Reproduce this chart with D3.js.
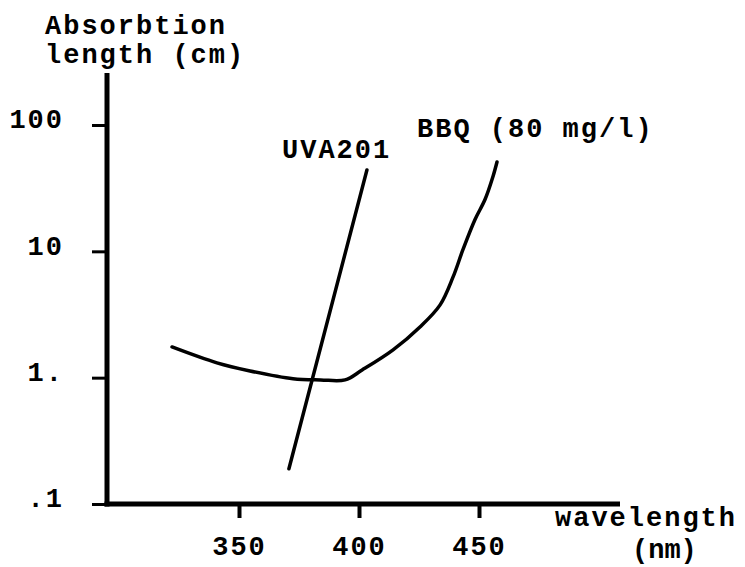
<!doctype html>
<html lang="en">
<head>
  <meta charset="utf-8">
  <title>Absorbtion length</title>
  <script src="https://cdnjs.cloudflare.com/ajax/libs/d3/7.8.5/d3.min.js"></script>
  <style>
    body { margin: 0; background: #fff; }
    text { font-family: "Liberation Mono", "DejaVu Sans Mono", monospace; font-weight: bold; font-size: 27px; letter-spacing: 2px; fill: #000; }
  </style>
</head>
<body>
  <div id="my_dataviz"></div>
  <script>

// data (wavelength in nm, absorbtion length in cm)
var uvaWave = [370.8, 403.3];
var uvaLength = [0.19, 44];

var bbqWave = [322.1, 340.8, 354.6, 372.5, 384, 394.2, 401.3, 414.2, 425.4, 433.8, 439.2, 443.3, 448.3, 452.5, 455.8, 457.5];
var bbqLength = [1.75, 1.31, 1.13, 0.98, 0.96, 0.96, 1.15, 1.66, 2.52, 3.77, 6.27, 10.3, 17.8, 25.7, 39, 51];

var xTicks = [350, 400, 450];
var yTicks = [0.1, 1, 10, 100];
var yTickLabels = [".1", "1.", "10", "100"];

var width = 745, height = 567;

var svg = d3.select("#my_dataviz")
  .append("svg")
    .attr("width", width)
    .attr("height", height);

// scales
var x = d3.scaleLinear()
  .domain([350, 450])
  .range([239, 479]);

var y = d3.scaleLog()
  .domain([0.1, 100])
  .range([504, 125]);

// Y axis ticks + labels
var yAxis = svg.append("g")
  .attr("transform", "translate(107,0)")
  .call(d3.axisLeft(y)
    .tickValues(yTicks)
    .tickSize(15)
    .tickPadding(28)
    .tickFormat(function(d, i) { return yTickLabels[i]; }));
yAxis.select(".domain").remove();
yAxis.selectAll("line").attr("stroke", "#000").attr("stroke-width", 3);
yAxis.selectAll("text").attr("dy", "0.1em").style("font-size", "27px");

// X axis ticks + labels
var xAxis = svg.append("g")
  .attr("transform", "translate(0,504)")
  .call(d3.axisBottom(x)
    .tickValues(xTicks)
    .tickSize(14)
    .tickPadding(18));
xAxis.select(".domain").remove();
xAxis.selectAll("line").attr("stroke", "#000").attr("stroke-width", 4);
xAxis.selectAll("text").style("font-size", "27px");

// axis lines
svg.append("line")
  .attr("x1", 107).attr("x2", 107)
  .attr("y1", 73).attr("y2", 506.5)
  .attr("stroke", "#000").attr("stroke-width", 5);
svg.append("line")
  .attr("x1", 104.5).attr("x2", 620)
  .attr("y1", 504).attr("y2", 504)
  .attr("stroke", "#000").attr("stroke-width", 5);

// curves
var line = d3.line()
  .x(function(d) { return x(d[0]); })
  .y(function(d) { return y(d[1]); });

svg.append("path")
  .datum(d3.zip(uvaWave, uvaLength))
  .attr("fill", "none")
  .attr("stroke", "#000")
  .attr("stroke-width", 3.5)
  .attr("stroke-linecap", "round")
  .attr("d", line);

svg.append("path")
  .datum(d3.zip(bbqWave, bbqLength))
  .attr("fill", "none")
  .attr("stroke", "#000")
  .attr("stroke-width", 3.5)
  .attr("stroke-linecap", "round")
  .attr("d", line.curve(d3.curveCatmullRom.alpha(0.5)));

// labels
svg.append("text").attr("x", 45).attr("y", 34).text("Absorbtion");
svg.append("text").attr("x", 45).attr("y", 63).text("length (cm)");
svg.append("text").attr("x", 282).attr("y", 158).text("UVA201");
svg.append("text").attr("x", 417).attr("y", 137).text("BBQ (80 mg/l)");
svg.append("text").attr("x", 555).attr("y", 526).text("wavelength");
svg.append("text").attr("x", 632).attr("y", 558).style("letter-spacing", "0px").text("(nm)");

</script>
</body>
</html>
